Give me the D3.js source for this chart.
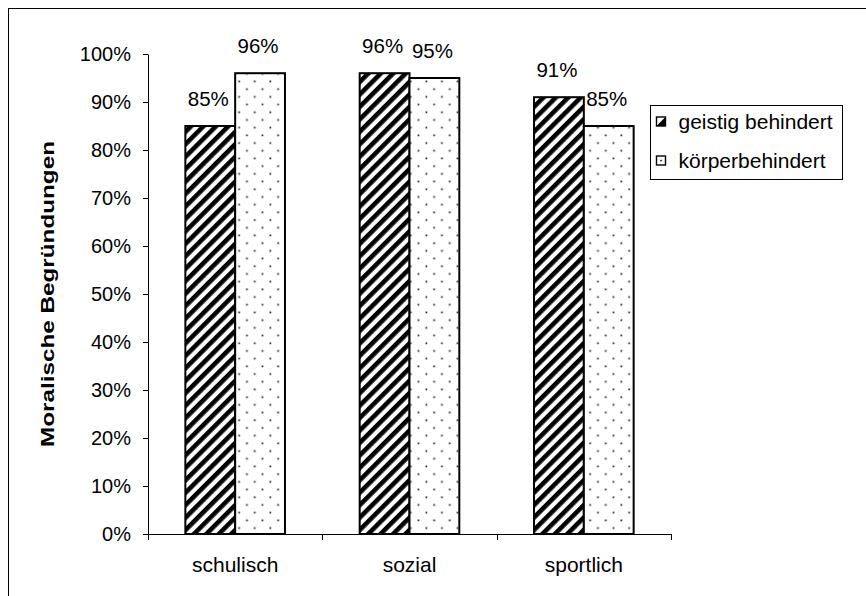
<!DOCTYPE html>
<html>
<head>
<meta charset="utf-8">
<script src="https://cdn.jsdelivr.net/npm/d3@7"></script>
<style>
  html, body { margin: 0; padding: 0; background: #fff; }
  svg { display: block; font-family: "Liberation Sans", Arial, sans-serif; }
</style>
</head>
<body>
<svg id="chart" width="866" height="596"></svg>
<script>
// data
const categories = ["schulisch", "sozial", "sportlich"];
const seriesNames = ["geistig behindert", "körperbehindert"];
const geistig = [0.85, 0.96, 0.91];
const koerper = [0.96, 0.95, 0.85];
const yTicks = [0, 0.1, 0.2, 0.3, 0.4, 0.5, 0.6, 0.7, 0.8, 0.9, 1.0];
const yTitle = "Moralische Begründungen";

const W = 866, H = 596;
const m = { top: 54, left: 148 };
const w = 671 - m.left;
const h = 534 - m.top;

const svg = d3.select("#chart");

// patterns
const defs = svg.append("defs");
const hatch = defs.append("pattern")
    .attr("id", "hatch").attr("patternUnits", "userSpaceOnUse")
    .attr("width", 8.8).attr("height", 8.8)
    .attr("patternTransform", "rotate(45)");
hatch.append("rect").attr("width", 8.8).attr("height", 8.8).attr("fill", "#fff");
hatch.append("rect").attr("x", 0).attr("width", 4.6).attr("height", 8.8).attr("fill", "#000");

const dots = defs.append("pattern")
    .attr("id", "dots").attr("patternUnits", "userSpaceOnUse")
    .attr("width", 15.6).attr("height", 15.4)
    .attr("x", 4).attr("y", 3);
dots.append("rect").attr("width", 15.6).attr("height", 15.4).attr("fill", "#fff");
dots.append("rect").attr("x", 0.5).attr("y", 0.5).attr("width", 1.7).attr("height", 1.7).attr("fill", "#222");
dots.append("rect").attr("x", 8.3).attr("y", 8.2).attr("width", 1.7).attr("height", 1.7).attr("fill", "#222");

// outer border (right/bottom edges fall off the picture)
svg.append("rect")
    .attr("x", 8.5).attr("y", 8.5).attr("width", W).attr("height", H)
    .attr("fill", "none").attr("stroke", "#000").attr("stroke-width", 1);

const g = svg.append("g").attr("transform", `translate(${m.left},${m.top})`);

const x0 = d3.scaleBand().domain(categories).range([0, w]).paddingInner(0).paddingOuter(0);
const barW = x0.bandwidth() / 3.5;
const x1 = d3.scaleBand().domain(seriesNames).range([0, barW * 2]);
const y = d3.scaleLinear().domain([0, 1]).range([h, 0]);

// y axis
g.append("g")
    .call(d3.axisLeft(y).tickValues(yTicks).tickFormat(d3.format(".0%")).tickSize(5).tickSizeOuter(0).tickPadding(12))
    .call(a => a.select(".domain").attr("stroke", "#000"))
    .call(a => a.selectAll("line").attr("stroke", "#000"))
    .call(a => a.selectAll("text").attr("fill", "#000").attr("font-size", 20)
        .attr("font-family", "Liberation Sans, Arial, sans-serif"));

// x axis (ticks at category boundaries)
const bounds = d3.range(categories.length + 1).map(i => i * x0.step());
g.append("line").attr("x1", 0).attr("x2", w).attr("y1", h + 0.5).attr("y2", h + 0.5)
    .attr("stroke", "#000");
g.selectAll(".xtick").data(bounds).enter().append("line")
    .attr("x1", d => Math.round(d) + 0.5).attr("x2", d => Math.round(d) + 0.5)
    .attr("y1", h).attr("y2", h + 6).attr("stroke", "#000");
g.selectAll(".xlabel").data(categories).enter().append("text")
    .attr("x", d => x0(d) + x0.bandwidth() / 2).attr("y", h + 38)
    .attr("text-anchor", "middle").attr("font-size", 21).attr("fill", "#000")
    .text(d => d);

// bars
const rows = categories.map((c, i) => ({ cat: c, vals: [geistig[i], koerper[i]] }));
const fills = ["url(#hatch)", "url(#dots)"];
rows.forEach(r => {
    const gx = x0(r.cat) + (x0.bandwidth() - barW * 2) / 2;
    r.vals.forEach((v, j) => {
        const bx = gx + x1(seriesNames[j]);
        g.append("rect")
            .attr("x", bx).attr("y", y(v))
            .attr("width", barW).attr("height", h - y(v))
            .attr("fill", fills[j]).attr("stroke", "#000").attr("stroke-width", 2);
        g.append("text")
            .attr("x", bx + barW / 2 - 2).attr("y", y(v) - 20)
            .attr("text-anchor", "middle").attr("font-size", 20.5).attr("fill", "#000")
            .text(d3.format(".0%")(v));
    });
});

// y title
svg.append("text")
    .attr("transform", `translate(54,${m.top + h / 2}) rotate(-90)`)
    .attr("text-anchor", "middle").attr("font-size", 18).attr("font-weight", "bold")
    .attr("textLength", 306).attr("lengthAdjust", "spacingAndGlyphs")
    .attr("fill", "#000").text(yTitle);

// legend
const legend = svg.append("g").attr("transform", "translate(650.5,105.5)");
legend.append("rect").attr("width", 192).attr("height", 74)
    .attr("fill", "#fff").attr("stroke", "#000").attr("stroke-width", 1);
seriesNames.forEach((s, i) => {
    const ly = 16 + i * 39;
    legend.append("rect").attr("x", 6).attr("y", ly - 4.5).attr("width", 9).attr("height", 9)
        .attr("fill", "#fff").attr("stroke", "#000").attr("stroke-width", 1.4);
    if (i === 0) {
        legend.append("path").attr("d", `M6,${ly + 4.5}L15,${ly - 4.5}L15,${ly + 4.5}Z`).attr("fill", "#000");
    } else {
        legend.append("rect").attr("x", 9.8).attr("y", ly - 0.7).attr("width", 1.5).attr("height", 1.5).attr("fill", "#000");
    }
    legend.append("text").attr("x", 28).attr("y", ly + 7.5)
        .attr("font-size", 21).attr("fill", "#000").text(s);
});
</script>
</body>
</html>
